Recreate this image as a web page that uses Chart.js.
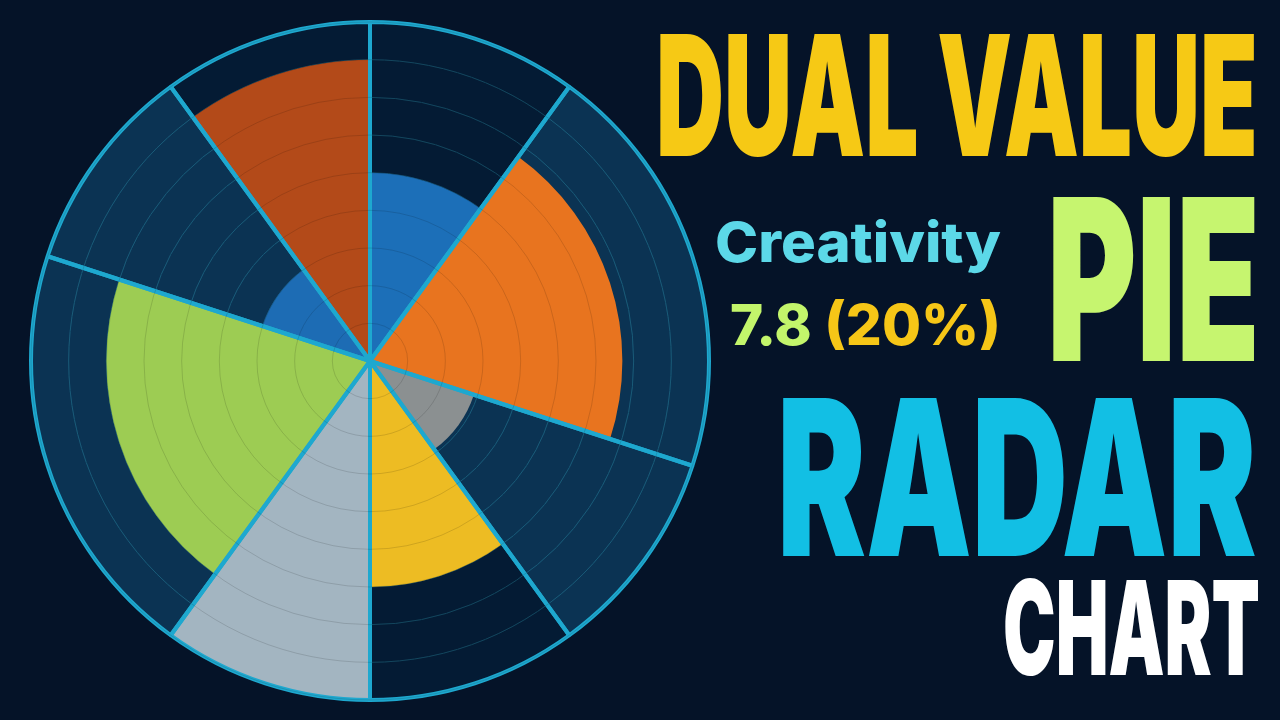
<!DOCTYPE html>
<html>
<head>
<meta charset="utf-8">
<title>Dual Value Pie Radar Chart</title>
<script src="https://cdn.jsdelivr.net/npm/chart.js@4.4.1/dist/chart.umd.min.js"></script>
<style>
  html, body { margin: 0; padding: 0; width: 1280px; height: 720px; overflow: hidden; background: #051328; }
  #chartBox { position: absolute; left: 0; top: 0; width: 740px; height: 720px; }
  .t { position: absolute; left: 0; top: 0; margin: 0; padding: 0; white-space: nowrap; transform-origin: 0 0; }
</style>
</head>
<body>
<div id="chartBox"><canvas id="pieRadar"></canvas></div>

<div class="t" id="tDual" style="color:#f6c915">DUAL VALUE</div>
<div class="t" id="tCreat" style="color:#5cd8e8">Creativity</div>
<div class="t" id="tVal"><span style="color:#c3f56b">7.8</span> <span style="color:#f6c617">(20%)</span></div>
<div class="t" id="tPie" style="color:#c6f56f">PIE</div>
<div class="t" id="tRadar" style="color:#12bfe4">RADAR</div>
<div class="t" id="tChart" style="color:#ffffff">CHART</div>

<script>
// slices clockwise from 12 o'clock
var labels = ['Segment 1', 'Creativity', 'Segment 3', 'Segment 4', 'Segment 5', 'Segment 6', 'Segment 7', 'Segment 8'];
// radius value of each slice (ring units)
var scores = [5.0, 6.7, 2.9, 6.0, 9.0, 7.0, 3.0, 8.0];
// share of the circle, percent -> slice angle
var shares = [10, 20, 10, 10, 10, 20, 10, 10];
// ring ticks 0..9
var ringMax = 9;
var ringStep = 1;

var sliceColors = ['#1c6fb8', '#e8741f', '#8b9091', '#edbc23', '#a3b5c1', '#9dcc53', '#1d6cb4', '#b34a19'];
// track behind each slice (semi transparent so the rings show through)
var darkTrack = 'rgba(3,34,60,0.6)';
var lightTrack = 'rgba(15,74,112,0.6)';
var trackColors = [darkTrack, lightTrack, lightTrack, darkTrack, lightTrack, lightTrack, lightTrack, darkTrack];

function sliceAngle(c) {
  return shares[c.dataIndex] * 3.6;
}
function fullRing() {
  return labels.map(function() { return ringMax; });
}

var pieRadarCanvas = document.getElementById('pieRadar').getContext('2d');
var pieRadar = new Chart(pieRadarCanvas, {
  type: 'polarArea',
  data: {
    labels: labels,
    datasets: [
      // cyan frame: slice borders + outer circle, drawn on top
      { label: 'frame', data: fullRing(), angle: sliceAngle, backgroundColor: 'rgba(0,0,0,0)',
        borderColor: '#1ea8cf', borderWidth: 4, order: 0 },
      { label: 'score', data: scores, angle: sliceAngle, backgroundColor: sliceColors,
        borderWidth: 0, order: 1 },
      { label: 'track', data: fullRing(), angle: sliceAngle, backgroundColor: trackColors,
        borderWidth: 0, order: 2 }
    ]
  },
  options: {
    responsive: true,
    maintainAspectRatio: false,
    animation: false,
    events: [],
    layout: { padding: { top: 22, bottom: 20, left: 0, right: 0 } },
    plugins: { legend: { display: false }, tooltip: { enabled: false } },
    scales: {
      // rings under the slices (seen through the tracks)
      r: {
        min: 0, max: ringMax, startAngle: 0,
        ticks: { display: false, stepSize: ringStep },
        grid: { circular: true, color: '#3496b2', lineWidth: 1 },
        angleLines: { display: false },
        pointLabels: { display: false }
      },
      // faint rings over the coloured slices
      r2: {
        type: 'radialLinear', axis: 'r',
        min: 0, max: ringMax, startAngle: 0,
        ticks: { display: false, stepSize: ringStep },
        grid: { circular: true, z: 1, color: 'rgba(0,0,0,0.13)', lineWidth: 1 },
        angleLines: { display: false },
        pointLabels: { display: false }
      }
    }
  }
});

// squeeze the headline text into the boxes it has on the picture
var meter = document.createElement('canvas').getContext('2d');
function fitText(id, font, x0, top, base, x1) {
  var el = document.getElementById(id);
  var text = el.textContent;
  meter.font = font;
  var m = meter.measureText(text);
  var sx = (x1 - x0) / (m.actualBoundingBoxLeft + m.actualBoundingBoxRight);
  var sy = (base - top) / m.actualBoundingBoxAscent;
  var baseOff = (100 - (m.fontBoundingBoxAscent + m.fontBoundingBoxDescent)) / 2 + m.fontBoundingBoxAscent;
  el.style.font = font;
  el.style.lineHeight = '100px';
  el.style.left = (x0 + sx * m.actualBoundingBoxLeft) + 'px';
  el.style.top = (base - sy * baseOff) + 'px';
  el.style.transform = 'scale(' + sx + ',' + sy + ')';
}

var headFont = '900 100px Inter, Roboto, "DejaVu Sans", sans-serif';
var subFont = '800 100px Inter, Roboto, "DejaVu Sans", sans-serif';
fitText('tDual', headFont, 660, 35, 157, 1255);
fitText('tPie', headFont, 1052, 198, 363, 1255);
fitText('tRadar', headFont, 782, 398, 557, 1255);
fitText('tChart', headFont, 1005, 578, 675, 1258);
fitText('tCreat', subFont, 717, 220, 263, 1000);
fitText('tVal', subFont, 732, 300, 346, 997);
</script>
</body>
</html>
